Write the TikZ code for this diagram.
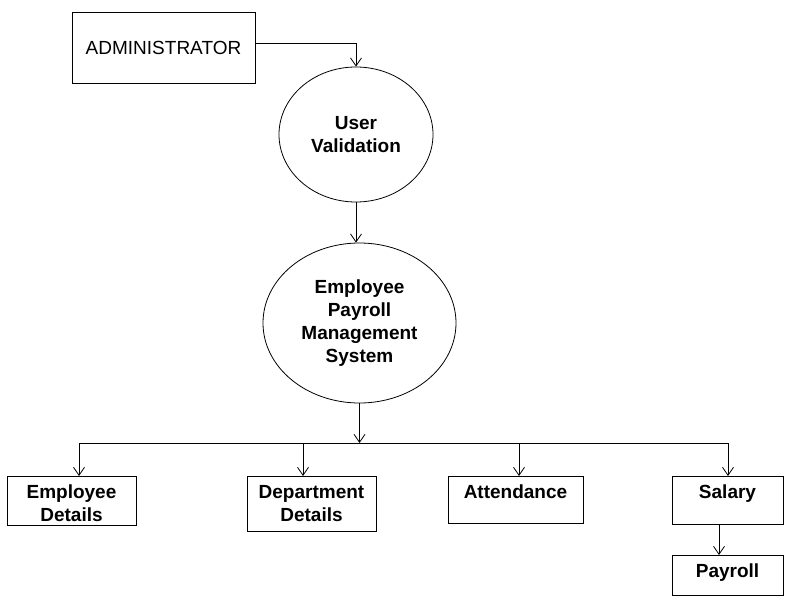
\documentclass[tikz,border=0pt]{standalone}
\usepackage{fontspec}
\setmainfont{Liberation Sans}
\usetikzlibrary{shapes.geometric, arrows.meta, positioning, calc}

\begin{document}
\begin{tikzpicture}[
  x=1pt, y=-1pt, line width=0.8pt,
  >={Straight Barb[length=8pt,width=11pt]},
  extbox/.style={draw, minimum width=183pt, minimum height=71pt, font=\fontsize{19}{23}\selectfont},
  proc/.style={draw, ellipse, inner sep=0pt, align=center, font=\fontsize{19}{23}\selectfont\bfseries},
  sbox/.style={draw, anchor=north, inner sep=0pt, text width=#1, align=center, text height=22pt, font=\fontsize{19}{23}\selectfont\bfseries}
]
  \useasboundingbox (0,0) rectangle (792,604);

  \node[extbox] (admin) at (163.5,47.5) {ADMINISTRATOR};
  \node[proc, minimum width=154pt, minimum height=135pt] (uv) at (356,134.5) {User\\Validation};
  \node[proc, minimum width=193pt, minimum height=160pt] (eps) at (359.5,323) {Employee\\Payroll\\Management\\System};

  \node[sbox=129pt, text depth=27pt] (ed) at (71.5,476) {Employee\\Details};
  \node[sbox=129pt, text depth=33pt] (dd) at (311.5,476) {Department\\Details};
  \node[sbox=135pt, text depth=25pt] (att) at (515.5,476) {Attendance};
  \node[sbox=111pt, text depth=26pt] (sa) at (727.5,476) {Salary};
  \node[sbox=111pt, text depth=18pt] (pa) at (727.5,555) {Payroll};

  % bus below the main process
  \coordinate (d1) at (79,443);
  \coordinate (d2) at (303,443);
  \coordinate (d3) at (519,443);
  \coordinate (d4) at (728,443);

  \draw[->] ($(admin.east)+(0,-4.5)$) -| (uv.north);
  \draw[->] (uv.south) -- (uv.south |- eps.north);
  \draw[->] (eps.south) -- (eps.south |- d1);
  \draw (d1) -- (d4);
  \draw[->] (d1) -- (d1 |- ed.north);
  \draw[->] (d2) -- (d2 |- dd.north);
  \draw[->] (d3) -- (d3 |- att.north);
  \draw[->] (d4) -- (d4 |- sa.north);
  \draw[->] ($(sa.south)+(-8.5,0)$) -- ($(pa.north)+(-8.5,0)$);
\end{tikzpicture}
\end{document}
